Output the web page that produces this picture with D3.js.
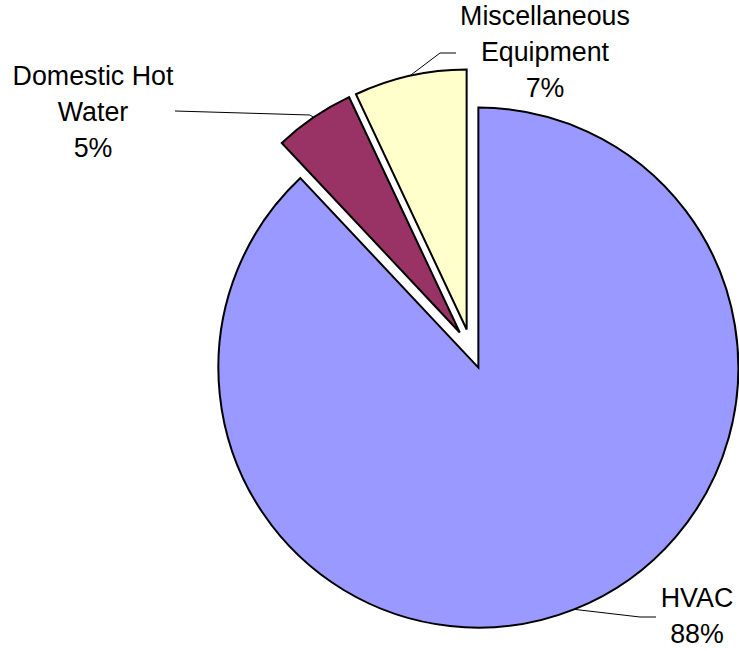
<!DOCTYPE html>
<html>
<head>
<meta charset="utf-8">
<script src="https://cdn.jsdelivr.net/npm/d3@7"></script>
<style>
  html, body { margin: 0; padding: 0; background: #fff; }
  svg { display: block; }
  text { font-family: Arial, "Liberation Sans", sans-serif; fill: #000; }
</style>
</head>
<body>
<svg id="chart" width="739" height="651"></svg>
<script>
// Energy end-use shares
const categories = ["HVAC", "Domestic Hot Water", "Miscellaneous Equipment"];
const values = [88, 5, 7];
const labelLines = [["HVAC"], ["Domestic Hot", "Water"], ["Miscellaneous", "Equipment"]];
const colors = ["#9999FF", "#993366", "#FFFFCC"];

// Layout
const W = 739, H = 651;
const cx = 471, cy = 349, radius = 260, explode = 20;
const fontSize = 26.8, lineH = 36;
// label block anchor (centre x, first baseline) and leader elbow per slice
const labelLayout = [
  { x: 697, y: 607, elbow: [640, 617], end: [656, 617] },
  { x: 93,  y: 85,  elbow: [310, 115], end: [175, 111] },
  { x: 545, y: 25,  elbow: [440, 53],  end: [456, 53] }
];

const svg = d3.select("#chart");
const g = svg.append("g").attr("transform", `translate(${cx},${cy})`);

const pie = d3.pie().sort(null).value(d => d).startAngle(0).endAngle(2 * Math.PI);
const arcs = pie(values);
const arc = d3.arc().innerRadius(0).outerRadius(radius);

const offset = d => {
  const a = (d.startAngle + d.endAngle) / 2;
  return [explode * Math.sin(a), -explode * Math.cos(a)];
};

// slices, each pushed out along its mid-angle
g.selectAll("path.slice")
  .data(arcs)
  .join("path")
  .attr("class", "slice")
  .attr("transform", d => `translate(${offset(d)})`)
  .attr("d", arc)
  .attr("fill", (d, i) => colors[i])
  .attr("stroke", "#000")
  .attr("stroke-width", 2)
  .attr("stroke-linejoin", "miter");

// leader lines from the middle of each slice's rim
const line = d3.line();
arcs.forEach((d, i) => {
  const a = (d.startAngle + d.endAngle) / 2;
  const [ox, oy] = offset(d);
  const p0 = [cx + ox + radius * Math.sin(a), cy + oy - radius * Math.cos(a)];
  const L = labelLayout[i];
  svg.append("path")
    .attr("d", line([p0, L.elbow, L.end]))
    .attr("fill", "none")
    .attr("stroke", "#000")
    .attr("stroke-width", 1);
});

// labels: name lines plus percentage
const total = d3.sum(values);
const fmt = v => Math.round(v / total * 100) + "%";
arcs.forEach((d, i) => {
  const L = labelLayout[i];
  const lines = labelLines[i].concat([fmt(values[i])]);
  const t = svg.append("text")
    .attr("text-anchor", "middle")
    .attr("font-size", fontSize);
  lines.forEach((s, k) => {
    t.append("tspan").attr("x", L.x).attr("y", L.y + k * lineH).text(s);
  });
});
</script>
</body>
</html>
